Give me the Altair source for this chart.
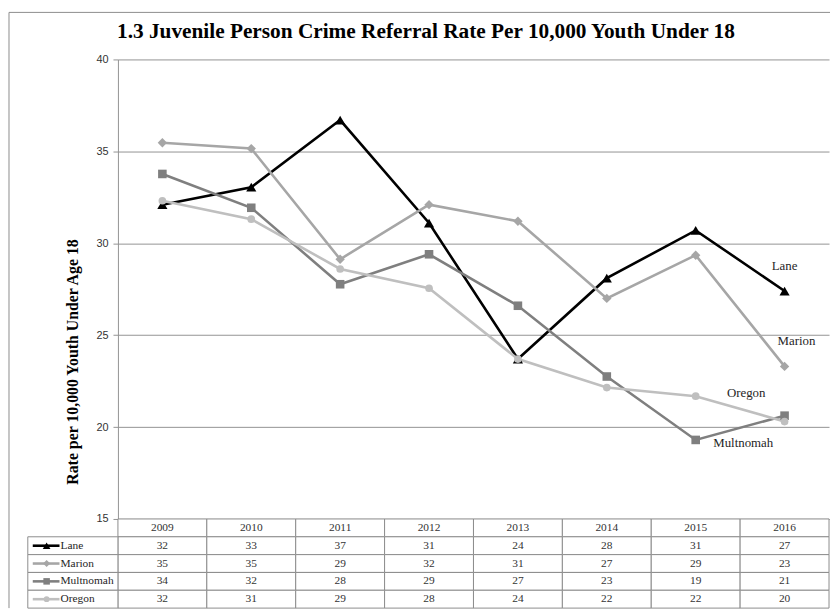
import altair as alt
import pandas as pd

title_text = "1.3 Juvenile Person Crime Referral Rate Per 10,000 Youth Under 18"
y_title = "Rate per 10,000 Youth Under Age 18"

years = ["2009", "2010", "2011", "2012", "2013", "2014", "2015", "2016"]
series = ["Lane", "Marion", "Multnomah", "Oregon"]
lane = [32.1, 33.05, 36.7, 31.1, 23.7, 28.1, 30.7, 27.4]
marion = [35.47, 35.15, 29.13, 32.1, 31.2, 27.0, 29.35, 23.3]
multnomah = [33.77, 31.93, 27.77, 29.4, 26.6, 22.75, 19.3, 20.62]
oregon = [32.31, 31.31, 28.6, 27.55, 23.7, 22.15, 21.68, 20.3]
y_ticks = [15, 20, 25, 30, 35, 40]

colors = ["#000000", "#A6A6A6", "#7F7F7F", "#BFBFBF"]
shapes = ["triangle-up", "diamond", "square", "circle"]
marker_sizes = [105, 60, 100, 100]
key_sizes = [60, 35, 60, 60]

values_by_series = dict(zip(series, [lane, marion, multnomah, oregon]))
long = pd.DataFrame(
    [{"series": s, "year": y, "value": v}
     for s in series for y, v in zip(years, values_by_series[s])]
)

SERIF = "Liberation Serif"
SANS = "Liberation Sans"
GRID = "#939393"
TBL = "#8c8c8c"
W, H = 718, 464

color_enc = alt.Color("series:N", scale=alt.Scale(domain=series, range=colors), legend=None)
shape_enc = alt.Shape("series:N", scale=alt.Scale(domain=series, range=shapes), legend=None)

x_enc = alt.X(
    "year:N",
    scale=alt.Scale(type="point", domain=years, padding=0.5),
    axis=alt.Axis(labels=False, ticks=False, title=None, grid=False, domainColor=GRID),
)
y_enc = alt.Y(
    "value:Q",
    scale=alt.Scale(domain=[15, 40], nice=False, zero=False),
    axis=alt.Axis(
        values=y_ticks, tickSize=5, tickColor=GRID, domainColor=GRID, gridColor=GRID,
        labelFont=SANS, labelFontSize=11, labelColor="#333333", labelPadding=5,
        title=y_title, titleFont=SERIF, titleFontSize=16, titleFontWeight="bold",
        titleColor="black", titleX=-46, titleY=305, titleAngle=270,
        titleAlign="center", titleBaseline="middle",
    ),
)

base = alt.Chart(long)
lines = base.mark_line(strokeWidth=2.6).encode(x=x_enc, y=y_enc, color=color_enc)
points = base.mark_point(filled=True, opacity=1).encode(
    x=x_enc, y=y_enc, color=color_enc, shape=shape_enc,
    size=alt.Size("series:N", scale=alt.Scale(domain=series, range=marker_sizes), legend=None),
)

label_layers = []
for name, yr, dx, dy in [("Lane", "2016", 0, -25), ("Marion", "2016", 12, -26),
                         ("Oregon", "2015", 51, -3), ("Multnomah", "2015", 48, 3)]:
    label_layers.append(
        base.transform_filter((alt.datum.series == name) & (alt.datum.year == yr))
        .mark_text(font=SERIF, fontSize=13, color="#262626", dx=dx, dy=dy)
        .encode(x=x_enc, y=y_enc, text="series:N")
    )

one = alt.Data(values=[{"t": title_text}])
title_mark = alt.Chart(one).mark_text(
    font=SERIF, fontSize=21.5, fontWeight="bold", color="black", align="center", baseline="middle"
).encode(x=alt.value(311), y=alt.value(-28), text="t:N")

border_top = alt.Chart(one).mark_rule(color=TBL, strokeWidth=1).encode(
    x=alt.value(-110), x2=alt.value(719), y=alt.value(-47.5))
border_left = alt.Chart(one).mark_rule(color=TBL, strokeWidth=1).encode(
    x=alt.value(-110), y=alt.value(-47.5), y2=alt.value(554))

top = alt.layer(border_top, border_left, title_mark, lines, points, *label_layers).properties(
    width=W, height=H)

# ---- data table ----
tbl_rows = ["Year"] + series
cells = [{"row": "Year", "year": y, "label": y} for y in years]
for s in series:
    for y, v in zip(years, values_by_series[s]):
        cells.append({"row": s, "year": y, "label": f"{v:.0f}"})
cells_df = pd.DataFrame(cells)
leg_df = pd.DataFrame({"row": series, "series": series})

tx = alt.X("year:N", scale=alt.Scale(domain=years, paddingInner=0, paddingOuter=0), axis=None)
ty = alt.Y("row:N", scale=alt.Scale(domain=tbl_rows, paddingInner=0, paddingOuter=0), axis=None)
ty_c = alt.Y("row:N", scale=alt.Scale(domain=tbl_rows, paddingInner=0, paddingOuter=0),
             axis=None, bandPosition=0.5)

cell_rects = alt.Chart(cells_df).mark_rect(fill="white", stroke=TBL, strokeWidth=1).encode(x=tx, y=ty)
cell_text = alt.Chart(cells_df).mark_text(font=SERIF, fontSize=11.5, color="#333333").encode(
    x=tx, y=ty_c, text="label:N")

leg_rect = alt.Chart(leg_df).mark_rect(fill="white", stroke=TBL, strokeWidth=1).encode(
    x=alt.value(-91), x2=alt.value(0), y=ty)
leg_line = alt.Chart(leg_df).mark_rule(strokeWidth=2.6).encode(
    x=alt.value(-86), x2=alt.value(-59), y=ty_c, color=color_enc)
leg_pts = alt.Chart(leg_df).mark_point(filled=True, opacity=1).encode(
    x=alt.value(-72), y=ty_c, color=color_enc, shape=shape_enc,
    size=alt.Size("series:N", scale=alt.Scale(domain=series, range=key_sizes), legend=None))
leg_text = alt.Chart(leg_df).mark_text(font=SERIF, fontSize=11.5, color="#262626", align="left").encode(
    x=alt.value(-58), y=ty_c, text="series:N")

table = alt.layer(cell_rects, cell_text, leg_rect, leg_line, leg_pts, leg_text).properties(
    width=W, height=90)

chart = (
    alt.vconcat(top, table, spacing=0, bounds="flush")
    .resolve_scale(x="independent", y="independent", size="independent")
    .properties(padding=0, background="white")
    .configure_view(stroke="transparent")
)

chart.save("out.html", embed_options={"renderer": "svg", "actions": False})
